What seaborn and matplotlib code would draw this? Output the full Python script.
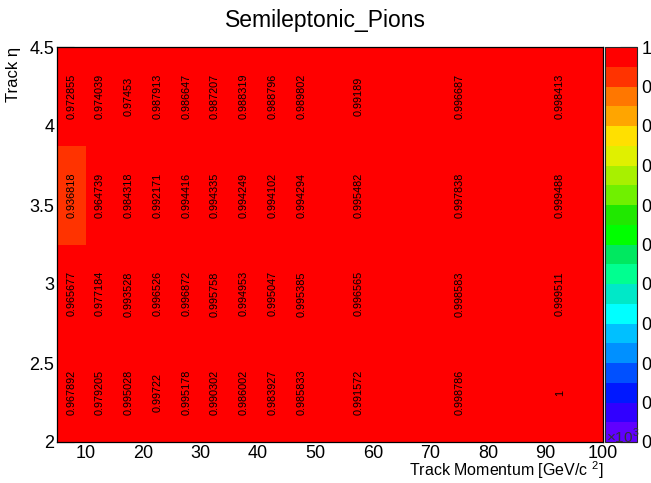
import numpy as np
import matplotlib
matplotlib.use("Agg")
import matplotlib.pyplot as plt
import seaborn as sns
from matplotlib.colors import ListedColormap
from matplotlib.ticker import MultipleLocator, FuncFormatter

# bin edges
mom_edges = [5, 10, 15, 20, 25, 30, 35, 40, 45, 50, 65, 85, 100]
eta_edges = [2.0, 2.625, 3.25, 3.875, 4.5]

# efficiency per eta row (bottom -> top), per momentum bin
eff_row1 = [0.967892, 0.979205, 0.995028, 0.99722, 0.995178, 0.990302, 0.986002, 0.983927, 0.985833, 0.991572, 0.998786, 1]
eff_row2 = [0.965677, 0.977184, 0.993528, 0.996526, 0.996872, 0.995758, 0.994953, 0.995047, 0.995385, 0.996565, 0.998583, 0.999511]
eff_row3 = [0.936818, 0.964739, 0.984318, 0.992171, 0.994416, 0.994335, 0.994249, 0.994102, 0.994294, 0.995482, 0.997838, 0.999488]
eff_row4 = [0.972855, 0.974039, 0.97453, 0.987913, 0.986647, 0.987207, 0.988319, 0.988796, 0.989802, 0.99189, 0.996687, 0.998413]

# ROOT-like 20 step palette, low -> high
palette = ["#6000FF", "#3000FF", "#0018FF", "#0050FF", "#0090FF",
           "#00C0FF", "#00FFFF", "#00E8C8", "#00FF90", "#00E860",
           "#00FF00", "#20E800", "#70F000", "#A8F000", "#E0F000",
           "#FFE000", "#FFA500", "#FF7700", "#FF3300", "#FF0000"]

sns.set_style("ticks")
plt.rcParams["font.family"] = ["Liberation Sans", "DejaVu Sans"]
plt.rcParams["mathtext.fontset"] = "custom"
plt.rcParams["mathtext.rm"] = "Liberation Sans"
for k in ["text.color", "axes.labelcolor", "xtick.color", "ytick.color"]:
    plt.rcParams[k] = "black"

Z = np.array([eff_row1, eff_row2, eff_row3, eff_row4])
cmap = ListedColormap(sns.color_palette(palette))

fig = plt.figure(figsize=(6.51, 4.83), dpi=100)
ax = fig.add_axes([57/651, 41/483, 546/651, 395/483])
cax = fig.add_axes([605/651, 41/483, 32/651, 395/483])

mesh = ax.pcolormesh(mom_edges, eta_edges, Z, cmap=cmap, vmin=0, vmax=1)

xc = [(a + b) / 2 for a, b in zip(mom_edges[:-1], mom_edges[1:])]
yc = [(a + b) / 2 for a, b in zip(eta_edges[:-1], eta_edges[1:])]
for j, y in enumerate(yc):
    for i, x in enumerate(xc):
        v = Z[j, i]
        ax.text(x, y, f"{v:.6g}", rotation=90, ha="center", va="center",
                fontsize=7.8, color="black")

ax.set_xlim(5, 100)
ax.set_ylim(2, 4.5)
ax.xaxis.set_major_locator(MultipleLocator(10))
ax.xaxis.set_minor_locator(MultipleLocator(2))
ax.yaxis.set_major_locator(MultipleLocator(0.5))
ax.yaxis.set_minor_locator(MultipleLocator(0.1))
ax.yaxis.set_major_formatter(FuncFormatter(lambda v, p: f"{v:g}"))
ax.tick_params(axis="x", which="major", direction="in", length=8.6, width=0.8, labelsize=13, pad=2)
ax.tick_params(axis="x", which="minor", direction="in", length=4.3, width=0.8)
ax.tick_params(axis="y", which="major", direction="in", length=12, width=0.8, labelsize=13, pad=2)
ax.tick_params(axis="y", which="minor", direction="in", length=6, width=0.8)
for s in ax.spines.values():
    s.set_color("black")
    s.set_linewidth(0.9)

ax.set_ylabel("Track η", fontsize=12, loc="top", labelpad=6)
fig.text(603/651, 1 - 470/483, "Track Momentum [GeV/c $^{2}$]", ha="right", va="center", fontsize=11.5)

cb = fig.colorbar(mesh, cax=cax, ticks=np.linspace(0, 1, 11))
cb.outline.set_linewidth(0.8)
cax.yaxis.set_major_formatter(FuncFormatter(lambda v, p: "0" if v < 1e-6 else ("1" if v > 0.9999 else f"{v:.1f}")))
cax.tick_params(axis="y", direction="in", length=12, width=0.8, labelsize=13, pad=3, right=True, left=False)

fig.text(0.5, 1 - 20/483, "Semileptonic_Pions", ha="center", va="center", fontsize=16.5)
fig.text(606/651, 1 - 436/483, "×10$^{3}$", ha="left", va="center", fontsize=11, color="#333333")

fig.savefig("out.png", dpi=100)
